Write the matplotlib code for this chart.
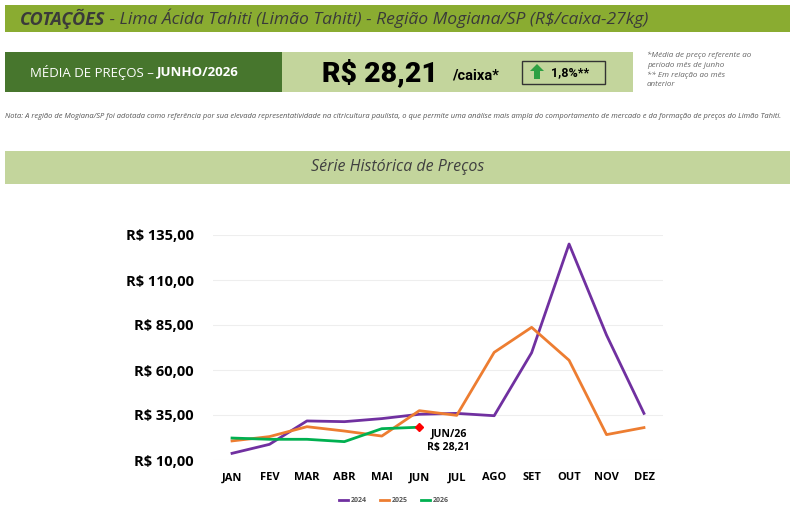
import matplotlib
matplotlib.use("Agg")
import matplotlib.pyplot as plt
from matplotlib.patches import Rectangle, Polygon

months = ["JAN", "FEV", "MAR", "ABR", "MAI", "JUN", "JUL", "AGO", "SET", "OUT", "NOV", "DEZ"]
price_2024 = [13.7, 18.7, 31.7, 31.3, 33.0, 35.4, 35.9, 34.6, 69.6, 130.0, 79.4, 35.9]
price_2025 = [20.6, 23.0, 28.5, 26.1, 23.3, 37.4, 34.8, 69.8, 83.7, 65.4, 24.1, 28.0]
price_2026 = [22.2, 21.5, 21.5, 20.2, 27.4, 28.21]
y_ticks = [10, 35, 60, 85, 110, 135]
y_labels = ["R$ 10,00", "R$ 35,00", "R$ 60,00", "R$ 85,00", "R$ 110,00", "R$ 135,00"]

W, H = 795, 530
fig = plt.figure(figsize=(W / 100, H / 100), dpi=100)
renderer = fig.canvas.get_renderer()

def fx(x):
    return x / W

def fy(y):
    return 1 - y / H

def box(x0, y0, x1, y1, **kw):
    fig.add_artist(Rectangle((fx(x0), fy(y1)), fx(x1) - fx(x0), fy(y0) - fy(y1),
                             transform=fig.transFigure, **kw))

def text_after(t, s, gap=0, **kw):
    # put s right after text t on the same line
    bb = t.get_window_extent(renderer)
    x0, y0 = t.get_position()
    return fig.text(fx(bb.x1 + gap), y0, s, **kw)

font = "Open Sans"

# header bar
box(5, 5, 790, 32, facecolor="#8aac31", edgecolor="none")
t = fig.text(fx(20), fy(18.5), "COTAÇÕES", fontsize=13, fontweight="bold", style="italic",
             color="#3a3a3a", va="center", family=font)
text_after(t, " - Lima Ácida Tahiti (Limão Tahiti) - Região Mogiana/SP (R$/caixa-27kg)",
           fontsize=12.6, style="italic", color="#3a3a3a", va="center", family=font)

# price boxes
box(5, 52, 282, 92, facecolor="#47762d", edgecolor="none")
box(282, 52, 633, 92, facecolor="#c3d59c", edgecolor="none")
t = fig.text(fx(30), fy(72), "MÉDIA DE PREÇOS – ", fontsize=9.5, color="white", va="center",
             family=font)
text_after(t, "JUNHO/2026", fontsize=9.5, color="white", fontweight="bold", va="center",
           family=font)
t = fig.text(fx(322), fy(73), "R$ 28,21", fontsize=20.5, fontweight="black", color="black",
             va="center", family="Roboto")
fig.text(fx(452), fy(76), "/caixa*", fontsize=10.5, fontweight="bold", color="black",
         va="center", family="Roboto")
box(522, 61, 605, 84, facecolor="none", edgecolor="#333333", linewidth=1)
arrow = [(537, 64), (544, 71), (540, 71), (540, 79), (534, 79), (534, 71), (530, 71)]
fig.add_artist(Polygon([(fx(a), fy(b)) for a, b in arrow], closed=True,
                       transform=fig.transFigure, facecolor="#2ea043", edgecolor="none"))
fig.text(fx(551), fy(73), "1,8%**", fontsize=9, fontweight="bold", color="black",
         va="center", family="Roboto")

fig.text(fx(647), fy(52), "*Média de preço referente ao\nperíodo mês de junho\n** Em relação ao mês\nanterior",
         fontsize=5.8, style="italic", color="#666666", va="top", linespacing=1.45, family=font)

fig.text(fx(5), fy(116), "Nota: A região de Mogiana/SP foi adotada como referência por sua elevada "
         "representatividade na citricultura paulista, o que permite uma análise mais ampla do "
         "comportamento de mercado e da formação de preços do Limão Tahiti.",
         fontsize=5.45, style="italic", color="#555555", va="center", family=font)

# section bar
box(5, 151, 790, 184, facecolor="#c3d59c", edgecolor="none")
fig.text(fx(398), fy(167), "Série Histórica de Preços", fontsize=11.5, style="italic",
         color="#404040", ha="center", va="center", family=font)

# chart
ax = fig.add_axes([fx(213.3), fy(460), fx(662.7) - fx(213.3), fy(235) - fy(460)])
x = list(range(len(months)))
ax.plot(x, price_2024, color="#7030a0", linewidth=2, label="2024")
ax.plot(x, price_2025, color="#ed7d31", linewidth=2, label="2025")
ax.plot(x[:len(price_2026)], price_2026, color="#00b050", linewidth=2, label="2026")
ax.plot([x[len(price_2026) - 1]], [price_2026[-1]], marker="D", color="red", markersize=4,
        linestyle="none")
ax.annotate("JUN/26\nR$ 28,21", (x[len(price_2026) - 1], price_2026[-1]), xytext=(21, -1),
            textcoords="offset points", ha="center", va="top", multialignment="center",
            fontsize=7.6, fontweight="bold", linespacing=1.35, family=font)

ax.set_xlim(-0.5, 11.5)
ax.set_ylim(10, 135)
ax.set_yticks(y_ticks)
ax.set_yticklabels(y_labels)
ax.set_xticks(x)
ax.set_xticklabels(months)
for lbl in ax.get_yticklabels():
    lbl.set_fontweight("bold")
    lbl.set_fontsize(10.5)
    lbl.set_family(font)
for lbl in ax.get_xticklabels():
    lbl.set_fontweight("bold")
    lbl.set_fontsize(8)
    lbl.set_family(font)
ax.tick_params(length=0)
ax.tick_params(axis="y", pad=14)
ax.tick_params(axis="x", pad=9)
ax.grid(axis="y", color="#eeeeee", linewidth=0.8)
ax.set_axisbelow(True)
for s in ax.spines.values():
    s.set_visible(False)

leg = fig.legend(loc="center", bbox_to_anchor=(fx(394), fy(501)), ncol=3, frameon=False,
                 handlelength=1.3, handletextpad=0.3, columnspacing=2.0,
                 prop={"family": font, "weight": "bold", "size": 5})
for t in leg.get_texts():
    t.set_color("#555555")

fig.savefig("out.png", dpi=100)
